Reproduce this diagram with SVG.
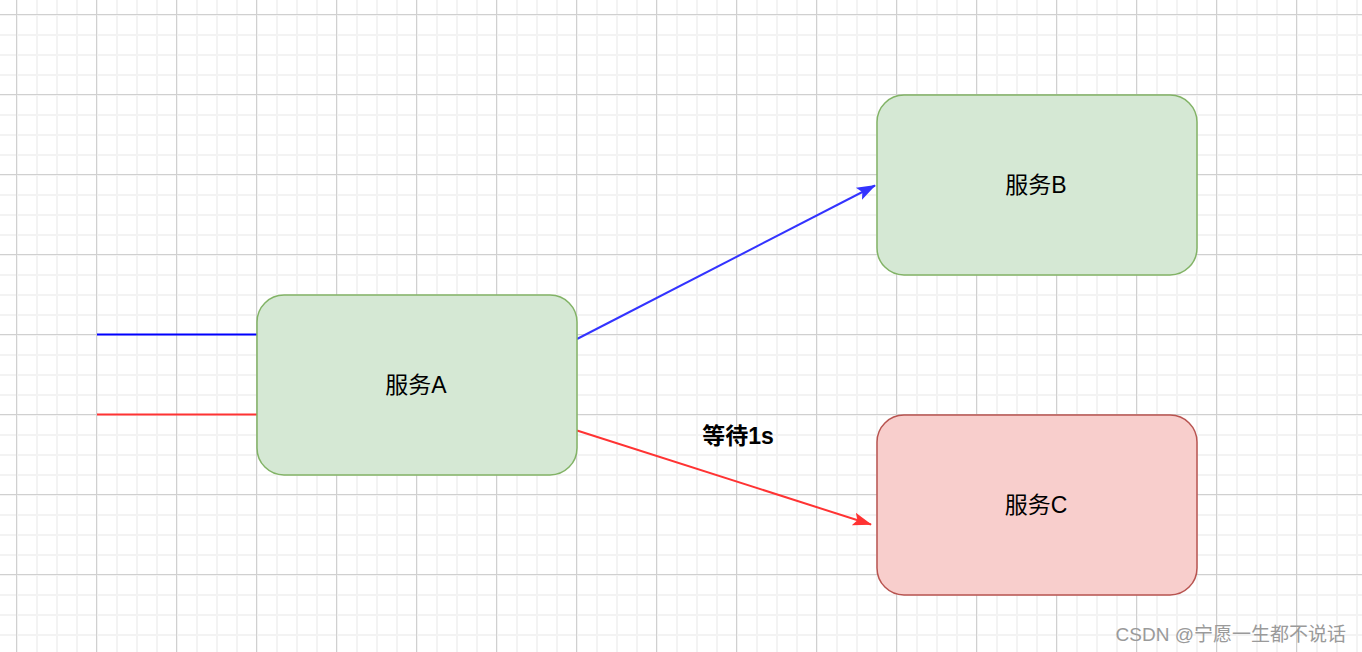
<svg xmlns="http://www.w3.org/2000/svg" width="1362" height="652" viewBox="0 0 1362 652">
<style>
.box{stroke-width:1.5}
.g{fill:#d5e8d4;stroke:#82b366}
.r{fill:#f8cecc;stroke:#b85450}
.lbl{font-family:"Liberation Sans","Noto Sans CJK SC",sans-serif;font-size:23px;fill:#000;text-anchor:middle}
.edge{fill:none;stroke-width:2}
</style>
<defs>
<pattern id="minor" patternUnits="userSpaceOnUse" x="16" y="14" width="20" height="20">
<path d="M0 0V20M0 0H20" stroke="#f3f3f3" stroke-width="4" fill="none"/>
</pattern>
<pattern id="major" patternUnits="userSpaceOnUse" x="16" y="14" width="80" height="80">
<path d="M0.5 0V80M0 0.5H80" stroke="#d0d0d0" stroke-width="1" fill="none"/>
</pattern>
<marker id="ab" viewBox="0 0 20 20" refX="19" refY="10" markerWidth="19" markerHeight="19" markerUnits="userSpaceOnUse" orient="auto">
<path d="M0 3L20 10L0 17L4 10Z" fill="#3333ff"/>
</marker>
<marker id="ar" viewBox="0 0 20 20" refX="19" refY="10" markerWidth="19" markerHeight="19" markerUnits="userSpaceOnUse" orient="auto">
<path d="M0 3L20 10L0 17L4 10Z" fill="#ff3333"/>
</marker>
</defs>
<rect width="1362" height="652" fill="#ffffff"/>
<rect width="1362" height="652" fill="url(#minor)"/>
<rect width="1362" height="652" fill="url(#major)"/>
<g id="connectors">
<line x1="97" y1="334.5" x2="257" y2="334.5" stroke="#0000ff" stroke-width="2"/>
<line x1="97" y1="414.5" x2="257" y2="414.5" stroke="#ff3333" stroke-width="2"/>
<path class="edge" d="M577 339L875 185.5" stroke="#3333ff" marker-end="url(#ab)"/>
<path class="edge" d="M577 430.5L871 524.5" stroke="#ff3333" marker-end="url(#ar)"/>
<text x="738" y="444" style="font-family:'Liberation Sans','Noto Sans CJK SC',sans-serif;font-size:23px;font-weight:bold;text-anchor:middle">等待1s</text>
</g>
<g id="nodeA">
<rect class="box g" x="257" y="295" width="320" height="180" rx="27"/>
<text class="lbl" x="416" y="393">服务A</text>
</g>
<g id="nodeB">
<rect class="box g" x="877" y="95" width="320" height="180" rx="27"/>
<text class="lbl" x="1036" y="193">服务B</text>
</g>
<g id="nodeC">
<rect class="box r" x="877" y="415" width="320" height="180" rx="27"/>
<text class="lbl" x="1036" y="513">服务C</text>
</g>
<text x="1346" y="641" style="font-family:'Liberation Sans','Noto Sans CJK SC',sans-serif;font-size:19px;fill:#9a9a9a;text-anchor:end">CSDN @宁愿一生都不说话</text>
</svg>
